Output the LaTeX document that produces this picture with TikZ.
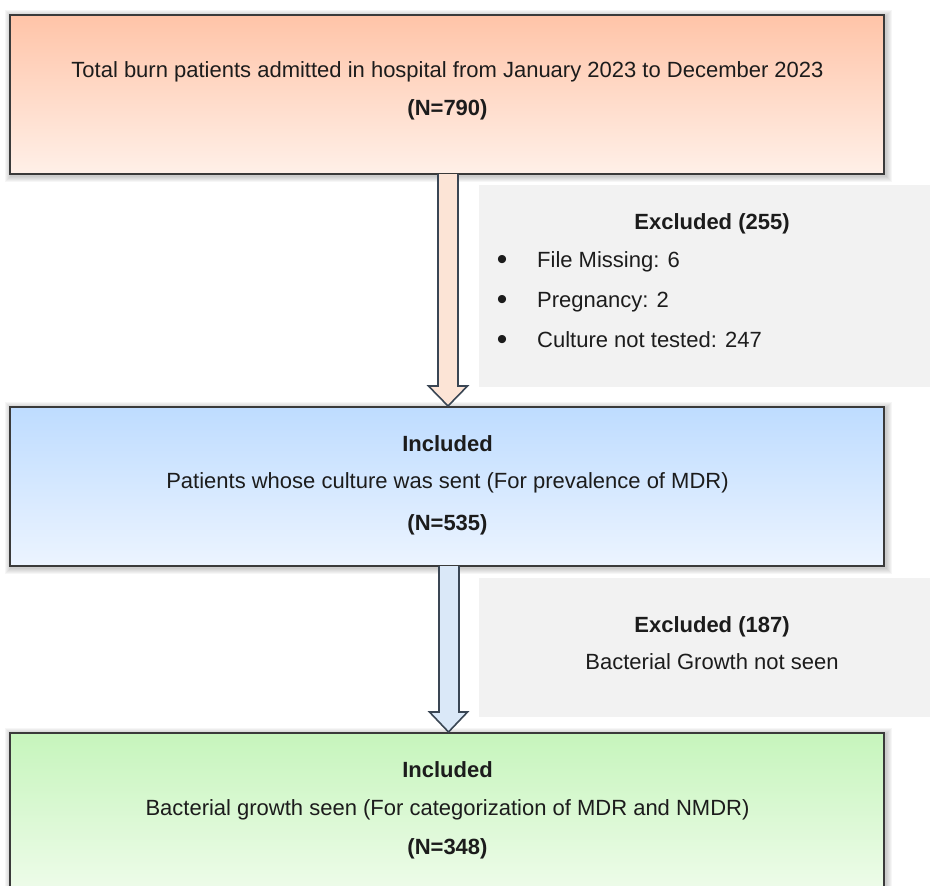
\documentclass[tikz,border=0pt]{standalone}
\usepackage{fontspec}
\setmainfont{Liberation Sans}
\usetikzlibrary{calc}
\pgfdeclarelayer{bg}
\pgfsetlayers{bg,main}
\definecolor{txt}{HTML}{1C1C1C}
\definecolor{boxline}{HTML}{3A3A3A}
\definecolor{orTop}{RGB}{255,196,168}
\definecolor{orBot}{RGB}{255,240,232}
\definecolor{blTop}{RGB}{190,220,255}
\definecolor{blBot}{RGB}{236,244,255}
\definecolor{grTop}{RGB}{198,245,188}
\definecolor{grBot}{RGB}{240,252,236}
\definecolor{exgray}{HTML}{F2F2F2}
\definecolor{arrA}{RGB}{252,228,214}
\definecolor{arrB}{RGB}{218,232,248}
\definecolor{arrline}{RGB}{58,70,84}
\begin{document}
\begin{tikzpicture}[x=1pt,y=-1pt,
  mainbox/.style={draw=boxline, line width=1.4pt, inner sep=0pt, outer sep=0pt, minimum width=874pt},
  exbox/.style={fill=exgray, draw=none, inner sep=0pt, outer sep=0pt, minimum width=460pt},
  lbl/.style={anchor=base, text=txt, inner sep=0pt, font=\fontsize{22}{26}\selectfont},
  lblb/.style={lbl, font=\fontsize{22}{26}\selectfont\bfseries},
  lblw/.style={lbl, anchor=base west},
  bulletmark/.style={anchor=center, text=txt, inner sep=0pt, font=\fontsize{30}{30}\selectfont},
  blockarrow/.style={draw=arrline, line width=1.6pt, line join=miter}]
\useasboundingbox (0,0) rectangle (930,886);
\clip (0,0) rectangle (930,886);

% main boxes
\node[mainbox, top color=orTop, bottom color=orBot, minimum height=159pt] (b1) at (447,94.5) {};
\node[mainbox, top color=blTop, bottom color=blBot, minimum height=159pt] (b2) at (447,486.5) {};
\node[mainbox, top color=grTop, bottom color=grBot, minimum height=166pt] (b3) at (447,816) {};

% soft shadows
\begin{pgfonlayer}{bg}
\foreach \n in {b1,b2,b3}{
  \foreach \k in {1,...,6}{
    \fill[black, fill opacity=0.035] ($(\n.north west)+(-\k+1,-\k+1)$) rectangle ($(\n.south east)+(\k+2,\k+2)$);
  }
}
\end{pgfonlayer}

% exclusion boxes
\node[exbox, minimum height=202pt] (e1) at (709,286) {};
\node[exbox, minimum height=139pt] (e2) at (709,647.5) {};

% block arrows
\draw[blockarrow, fill=arrA]
  ([xshift=-9pt]b1.south) -- ([xshift=-9pt,yshift=21pt]b2.north)
  -- ([xshift=-18.5pt,yshift=21pt]b2.north) -- ([xshift=1pt,yshift=1pt]b2.north)
  -- ([xshift=20.5pt,yshift=21pt]b2.north) -- ([xshift=11pt,yshift=21pt]b2.north)
  -- ([xshift=11pt]b1.south);
\draw[blockarrow, fill=arrB]
  ([xshift=-8pt]b2.south) -- ([xshift=-8pt,yshift=21pt]b3.north)
  -- ([xshift=-17.5pt,yshift=21pt]b3.north) -- ([xshift=1.5pt,yshift=1pt]b3.north)
  -- ([xshift=20.5pt,yshift=21pt]b3.north) -- ([xshift=12pt,yshift=21pt]b3.north)
  -- ([xshift=12pt]b2.south);

% texts box 1
\node[lbl] (t1a) at (447.5,77) {Total burn patients admitted in hospital from January 2023 to December 2023};
\node[lblb] (t1b) at (447.5,115) {(N=790)};

% exclusion 1
\node[lblb] (x1t) at (712,229) {Excluded (255)};
\node[bulletmark] (bu1) at (502,262) {•};
\node[bulletmark] (bu2) at (502,302) {•};
\node[bulletmark] (bu3) at (502,342) {•};
\node[lblw] (x1a) at (537,267) {File Missing: 6};
\node[lblw] (x1b) at (537,307) {Pregnancy: 2};
\node[lblw] (x1c) at (537,347) {Culture not tested: 247};

% texts box 2
\node[lblb] (t2a) at (447.5,451) {Included};
\node[lbl] (t2b) at (447.5,488) {Patients whose culture was sent (For prevalence of MDR)};
\node[lblb] (t2c) at (447.5,530) {(N=535)};

% exclusion 2
\node[lblb] (x2t) at (712,632) {Excluded (187)};
\node[lbl] (x2a) at (712,669) {Bacterial Growth not seen};

% texts box 3
\node[lblb] (t3a) at (447.5,777) {Included};
\node[lbl] (t3b) at (447.5,815) {Bacterial growth seen (For categorization of MDR and NMDR)};
\node[lblb] (t3c) at (447.5,854) {(N=348)};
\end{tikzpicture}
\end{document}
